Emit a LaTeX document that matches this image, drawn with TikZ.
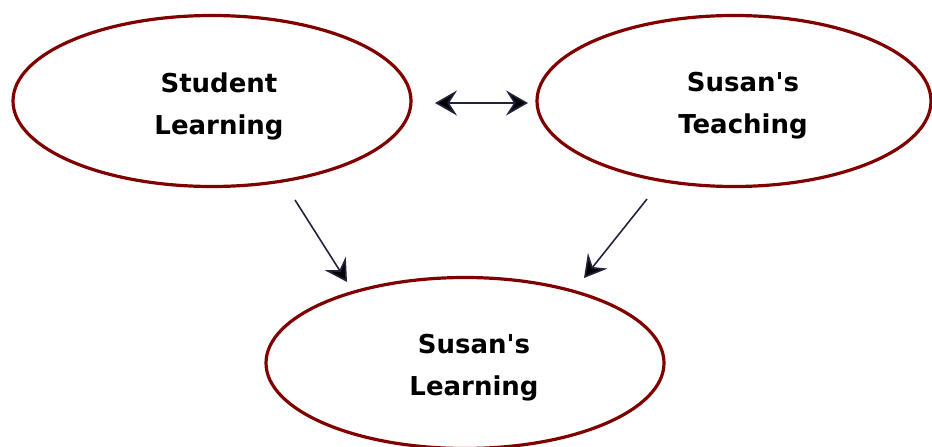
\documentclass[tikz,border=0pt]{standalone}
\usepackage{fontspec}
\newfontfamily\capfont{DejaVu Sans}
\usetikzlibrary{arrows.meta,shapes.geometric}
\definecolor{rim}{HTML}{800000}
\definecolor{link}{HTML}{23233F}
\begin{document}
\begin{tikzpicture}[x=1pt,y=-1pt,
  idea/.style={ellipse,draw=rim,line width=3.2pt,minimum width=398pt,minimum height=171pt,inner sep=0pt},
  label/.style={font=\capfont\fontsize{26}{42}\selectfont\bfseries,align=center},
  head/.tip={Stealth[length=22pt,width=25pt,inset=8pt,fill=black]},
  flow/.style={draw=link,line width=1.6pt,-head},
  flow2/.style={draw=link,line width=1.6pt,head-head}]
\useasboundingbox (0,0) rectangle (932,447);
% the three ellipses
\node[idea] (sl) at (212,101) {};
\node[idea,minimum width=394pt] (st) at (734,101) {};
\node[idea] (sul) at (465,363) {};
% their captions
\node[label] (tsl) at (219,106) {Student\\Learning};
\node[label] (tst) at (743,106) {Susan's\\Teaching};
\node[label] (tsul) at (474,368) {Susan's\\Learning};
% arrow end points, set apart from the ellipse rims
\coordinate (a1) at (435,103);
\coordinate (a2) at (528,103);
\coordinate (b1) at (295,200);
\coordinate (b2) at (347,282);
\coordinate (c1) at (647,199);
\coordinate (c2) at (584,278);
\draw[flow2] (a1) -- (a2);
\draw[flow] (b1) -- (b2);
\draw[flow] (c1) -- (c2);
\end{tikzpicture}
\end{document}
